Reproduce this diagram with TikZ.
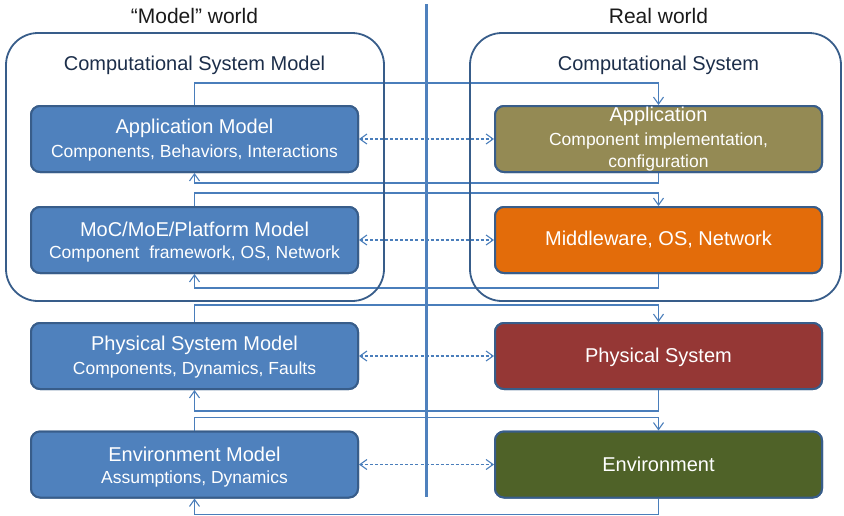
\documentclass[tikz,border=0pt]{standalone}
\usepackage{fontspec}
\setmainfont{Liberation Sans}
\usetikzlibrary{arrows.meta}

\definecolor{modelblue}{HTML}{4F81BD}
\definecolor{boxedge}{HTML}{385D8A}
\definecolor{linkblue}{HTML}{4A7EBB}
\definecolor{appolive}{HTML}{948A54}
\definecolor{mworange}{HTML}{E36C0A}
\definecolor{physred}{HTML}{953735}
\definecolor{envgreen}{HTML}{4F6228}
\definecolor{navytext}{HTML}{1C2E4A}
\definecolor{worldtext}{HTML}{1A1A1A}

\begin{document}
\begin{tikzpicture}[x=1pt,y=-1pt,
  container/.style={draw=boxedge, line width=1.8pt, rounded corners=32pt},
  sepline/.style={draw=modelblue, line width=3pt},
  blockbox/.style={draw=boxedge, line width=2pt, rounded corners=9pt,
    minimum width=327pt, minimum height=66pt, inner sep=0pt},
  modelbox/.style={blockbox, fill=modelblue},
  worldtitle/.style={font=\fontsize{21}{25}\selectfont, text=worldtext, inner sep=0pt},
  grouptitle/.style={font=\fontsize{20}{24}\selectfont, text=navytext, inner sep=0pt},
  headtext/.style={font=\fontsize{20}{24}\selectfont, text=white, inner sep=0pt},
  subtext/.style={font=\fontsize{17.5}{21}\selectfont, text=white, inner sep=0pt},
  link/.style={draw=linkblue, line width=1.1pt, -{Straight Barb[length=7pt,width=10pt]}},
  corr/.style={draw=linkblue, line width=1.1pt, dash pattern=on 3pt off 2pt,
    {Straight Barb[length=7pt,width=10pt]}-{Straight Barb[length=7pt,width=10pt]}}
]
\useasboundingbox (0,0) rectangle (844,515);

% block nodes (text placed separately below)
\node[modelbox] (am) at (194.5,139) {};
\node[modelbox] (mm) at (194.5,240) {};
\node[modelbox] (pm) at (194.5,356) {};
\node[modelbox] (em) at (194.5,464.5) {};
\node[blockbox, fill=appolive] (ap) at (658.5,139) {};
\node[blockbox, fill=mworange] (mw) at (658.5,240) {};
\node[blockbox, fill=physred] (ps) at (658.5,356) {};
\node[blockbox, fill=envgreen] (en) at (658.5,464.5) {};

% model -> real and real -> model feedback loops
\draw[link] (am.north) -- ++(0,-22) -| (ap.north);
\draw[link] (ap.south) -- ++(0,10) -| (am.south);
\draw[link] (mm.north) -- ++(0,-13) -| (mw.north);
\draw[link] (mw.south) -- ++(0,14) -| (mm.south);
\draw[link] (pm.north) -- ++(0,-17) -| (ps.north);
\draw[link] (ps.south) -- ++(0,21) -| (pm.south);
\draw[link] (em.north) -- ++(0,-13) -| (en.north);
\draw[link] (en.south) -- ++(0,16) -| (em.south);

% correspondence arrows
\draw[corr] (am.east) -- (ap.west);
\draw[corr] (mm.east) -- (mw.west);
\draw[corr] (pm.east) -- (ps.west);
\draw[corr] (em.east) -- (en.west);

% computational system groups and world divider
\draw[container] (6,33) rectangle (384,301);
\draw[container] (470,33) rectangle (841,301);
\draw[sepline] (426.5,4) -- (426.5,497);

% redraw boxes above the group outlines
\node[modelbox] at (am) {};
\node[modelbox] at (mm) {};
\node[modelbox] at (pm) {};
\node[modelbox] at (em) {};
\node[blockbox, fill=appolive] at (ap) {};
\node[blockbox, fill=mworange] at (mw) {};
\node[blockbox, fill=physred] at (ps) {};
\node[blockbox, fill=envgreen] at (en) {};

% titles
\node[worldtitle] (tmodel) at (194.5,16) {“Model” world};
\node[worldtitle] (treal) at (658.5,16) {Real world};
\node[grouptitle] (tcsm) at (194.5,65) {Computational System Model};
\node[grouptitle] (tcs) at (658.5,65) {Computational System};

% box texts
\node[headtext] (am1) at (194.5,128) {Application Model};
\node[subtext]  (am2) at (194.5,153) {Components, Behaviors, Interactions};
\node[headtext] (mm1) at (194.5,229) {MoC/MoE/Platform Model};
\node[subtext]  (mm2) at (194.5,254) {Component\ \ framework, OS, Network};
\node[headtext] (pm1) at (194.5,345) {Physical System Model};
\node[subtext]  (pm2) at (194.5,370) {Components, Dynamics, Faults};
\node[headtext] (em1) at (194.5,454) {Environment Model};
\node[subtext]  (em2) at (194.5,479) {Assumptions, Dynamics};

\node[headtext] (ap1) at (658.5,116) {Application};
\node[subtext]  (ap2) at (658.5,141) {Component implementation,};
\node[subtext]  (ap3) at (658.5,163) {configuration};
\node[headtext] (mw1) at (658.5,240) {Middleware, OS, Network};
\node[headtext] (ps1) at (658.5,357) {Physical System};
\node[headtext] (en1) at (658.5,464) {Environment};
\end{tikzpicture}
\end{document}
